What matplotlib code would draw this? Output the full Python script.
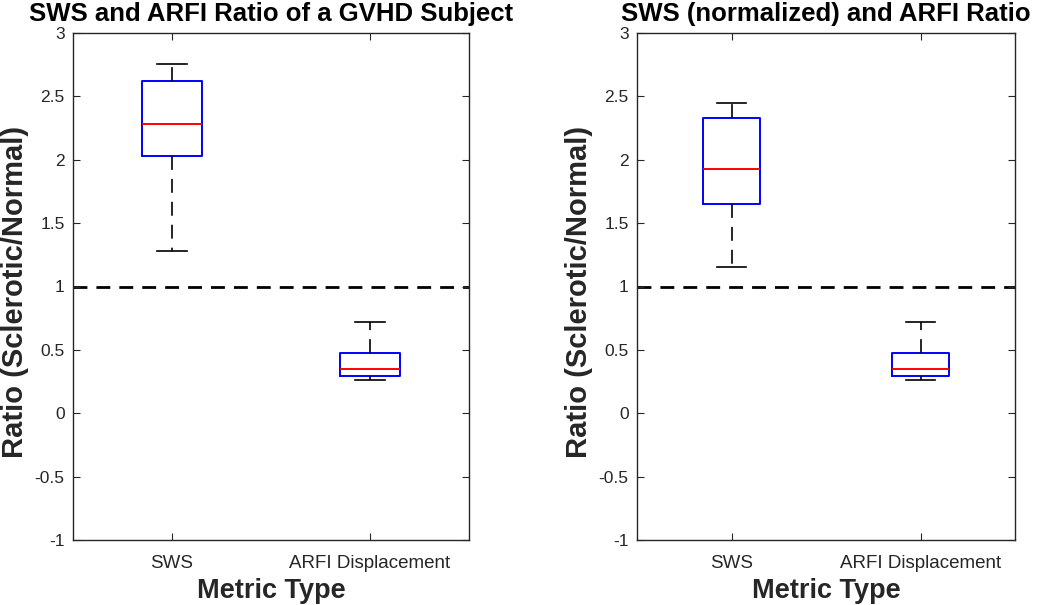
import numpy as np
import matplotlib
matplotlib.use("Agg")
import matplotlib.pyplot as plt

plt.rcParams['font.family'] = ['Liberation Sans', 'DejaVu Sans']
plt.rcParams['lines.scale_dashes'] = False

# box statistics (ratio sclerotic/normal)
categories = ['SWS', 'ARFI Displacement']
titles = ['SWS and ARFI Ratio of a GVHD Subject', 'SWS (normalized) and ARFI Ratio']

left_whislo = [1.28, 0.265]
left_q1 = [2.03, 0.29]
left_med = [2.285, 0.35]
left_q3 = [2.625, 0.478]
left_whishi = [2.755, 0.723]

right_whislo = [1.15, 0.265]
right_q1 = [1.648, 0.29]
right_med = [1.925, 0.35]
right_q3 = [2.332, 0.478]
right_whishi = [2.448, 0.723]

yticks = [-1, -0.5, 0, 0.5, 1, 1.5, 2, 2.5, 3]
ytick_labels = ['-1', '-0.5', '0', '0.5', '1', '1.5', '2', '2.5', '3']

GRAY = '#262626'
DASH = (0, (10, 6.5))


def make_stats(lo, q1, med, q3, hi):
    stats = []
    for i in range(len(categories)):
        stats.append(dict(whislo=lo[i], q1=q1[i], med=med[i], q3=q3[i],
                          whishi=hi[i], fliers=[], label=categories[i]))
    return stats


fig = plt.figure(figsize=(10.5, 6.05), dpi=100)
ax1 = fig.add_axes([73 / 1050, 1 - 540 / 605, 396 / 1050, 507 / 605])
ax2 = fig.add_axes([637 / 1050, 1 - 540 / 605, 378 / 1050, 507 / 605])

panels = [
    (ax1, make_stats(left_whislo, left_q1, left_med, left_q3, left_whishi), titles[0], -0.112),
    (ax2, make_stats(right_whislo, right_q1, right_med, right_q3, right_whishi), titles[1], -0.117),
]

for ax, stats, title, ylab_x in panels:
    ax.bxp(stats, positions=[1, 2], widths=0.3, capwidths=0.155, showfliers=False,
           boxprops=dict(color='#0000ff', linewidth=1.4),
           medianprops=dict(color='#ff0000', linewidth=1.4),
           whiskerprops=dict(color='black', linewidth=1.2, linestyle=DASH),
           capprops=dict(color='black', linewidth=1.2))
    ax.axhline(1, color='black', linewidth=2.0, linestyle=DASH, zorder=1)

    ax.set_xlim(0.5, 2.5)
    ax.set_ylim(-1, 3)
    ax.set_yticks(yticks)
    ax.set_yticklabels(ytick_labels)
    ax.set_xticks([1, 2])
    ax.set_xticklabels(categories)
    ax.tick_params(direction='in', length=5, width=0.8, colors=GRAY,
                   top=True, right=True)
    ax.tick_params(axis='x', pad=11, labelsize=13.5)
    ax.tick_params(axis='y', pad=6, labelsize=12.5)
    for s in ax.spines.values():
        s.set_color(GRAY)
        s.set_linewidth(1.0)

    ax.set_title(title, fontsize=18.5, fontweight='bold', color='black', pad=9)
    ax.set_xlabel('Metric Type', fontsize=19.5, fontweight='bold', color=GRAY, labelpad=4)
    ax.set_ylabel('Ratio (Sclerotic/Normal)', fontsize=21, fontweight='bold', color=GRAY)
    ax.yaxis.set_label_coords(ylab_x, 0.49)

fig.savefig('out.png', dpi=100)
